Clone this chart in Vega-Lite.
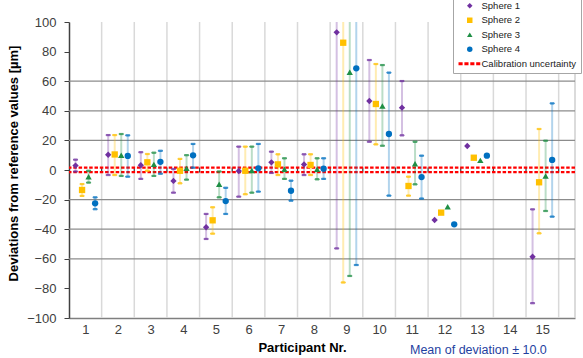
{
  "$schema": "https://vega.github.io/schema/vega-lite/v6.json",
  "width": 506,
  "height": 296,
  "autosize": {"type": "none"},
  "padding": {"left": 69, "top": 22, "right": 8, "bottom": 40},
  "background": "white",
  "title": {"text": "Mean of deviation ± 10.0", "orient": "bottom", "anchor": "start", "frame": "group", "dx": 341, "offset": -10, "fontSize": 12.5, "font": "Liberation Sans", "fontWeight": "normal", "color": "#1F3F9F"},
  "config": {
    "view": {"stroke": null},
    "font": "Liberation Sans",
    "legend": {"orient": "none", "legendX": 384, "legendY": -25, "padding": 4, "fillColor": "white", "strokeColor": "#a6a6a6", "labelFontSize": 9.5, "labelFont": "Liberation Sans", "labelColor": "#222222", "symbolSize": 30, "symbolStrokeWidth": 0, "rowPadding": 3.5, "symbolOffset": 8, "labelOffset": 7, "title": null}
  },
  "datasets": {
    "bounds": [{"b": 1.5}, {"b": 2.5}, {"b": 3.5}, {"b": 4.5}, {"b": 5.5}, {"b": 6.5}, {"b": 7.5}, {"b": 8.5}, {"b": 9.5}, {"b": 10.5}, {"b": 11.5}, {"b": 12.5}, {"b": 13.5}, {"b": 14.5}, {"b": 15.5}],
    "grid": [{"g": -60}, {"g": -40}, {"g": -20}, {"g": 20}, {"g": 40}, {"g": 60}],
    "main": [
      {"p": 1, "k": 1, "sphere": "Sphere 1", "v": 3, "lo": -1, "hi": 7},
      {"p": 1, "k": 2, "sphere": "Sphere 2", "v": -13.5, "lo": -17.5, "hi": -9.5},
      {"p": 1, "k": 3, "sphere": "Sphere 3", "v": -4.5, "lo": -8.5, "hi": -0.5},
      {"p": 1, "k": 4, "sphere": "Sphere 4", "v": -22.5, "lo": -26.5, "hi": -18.5},
      {"p": 2, "k": 1, "sphere": "Sphere 1", "v": 10.3, "lo": -3.4, "hi": 23.6},
      {"p": 2, "k": 2, "sphere": "Sphere 2", "v": 10.5, "lo": -3.4, "hi": 23.6},
      {"p": 2, "k": 3, "sphere": "Sphere 3", "v": 10, "lo": -4, "hi": 24.3},
      {"p": 2, "k": 4, "sphere": "Sphere 4", "v": 9.5, "lo": -4.5, "hi": 23.4},
      {"p": 3, "k": 1, "sphere": "Sphere 1", "v": 3.2, "lo": -6, "hi": 12},
      {"p": 3, "k": 2, "sphere": "Sphere 2", "v": 5.2, "lo": -0.5, "hi": 10.8},
      {"p": 3, "k": 3, "sphere": "Sphere 3", "v": 3.8, "lo": -4, "hi": 11.7},
      {"p": 3, "k": 4, "sphere": "Sphere 4", "v": 5.5, "lo": -2.5, "hi": 13},
      {"p": 4, "k": 1, "sphere": "Sphere 1", "v": -7.4, "lo": -15.3, "hi": 0.7},
      {"p": 4, "k": 2, "sphere": "Sphere 2", "v": -0.5, "lo": -9, "hi": 7.5},
      {"p": 4, "k": 3, "sphere": "Sphere 3", "v": 1.1, "lo": -6.5, "hi": 10},
      {"p": 4, "k": 4, "sphere": "Sphere 4", "v": 9.9, "lo": 1.6, "hi": 17.6},
      {"p": 5, "k": 1, "sphere": "Sphere 1", "v": -38.7, "lo": -46.6, "hi": -29.7},
      {"p": 5, "k": 2, "sphere": "Sphere 2", "v": -34, "lo": -43, "hi": -25.2},
      {"p": 5, "k": 3, "sphere": "Sphere 3", "v": -9.7, "lo": -18.5, "hi": -1},
      {"p": 5, "k": 4, "sphere": "Sphere 4", "v": -21, "lo": -29.7, "hi": -12},
      {"p": 6, "k": 1, "sphere": "Sphere 1", "v": -0.7, "lo": -18, "hi": 15.8},
      {"p": 6, "k": 2, "sphere": "Sphere 2", "v": -0.5, "lo": -16.4, "hi": 15.8},
      {"p": 6, "k": 3, "sphere": "Sphere 3", "v": -0.3, "lo": -15.3, "hi": 15.8},
      {"p": 6, "k": 4, "sphere": "Sphere 4", "v": 1.1, "lo": -14.6, "hi": 17.6},
      {"p": 7, "k": 1, "sphere": "Sphere 1", "v": 5.2, "lo": -2, "hi": 12.4},
      {"p": 7, "k": 2, "sphere": "Sphere 2", "v": 3.8, "lo": -3.4, "hi": 10.6},
      {"p": 7, "k": 3, "sphere": "Sphere 3", "v": 0.5, "lo": -6, "hi": 7.9},
      {"p": 7, "k": 4, "sphere": "Sphere 4", "v": -14, "lo": -20.7, "hi": -7.2},
      {"p": 8, "k": 1, "sphere": "Sphere 1", "v": 3.8, "lo": -3.4, "hi": 10.6},
      {"p": 8, "k": 2, "sphere": "Sphere 2", "v": 3.4, "lo": -3.4, "hi": 10.6},
      {"p": 8, "k": 3, "sphere": "Sphere 3", "v": 0.5, "lo": -6.3, "hi": 7.9},
      {"p": 8, "k": 4, "sphere": "Sphere 4", "v": 0.9, "lo": -6, "hi": 7.9},
      {"p": 9, "k": 1, "sphere": "Sphere 1", "v": 93, "lo": -53, "hi": 239},
      {"p": 9, "k": 2, "sphere": "Sphere 2", "v": 86, "lo": -76, "hi": 248},
      {"p": 9, "k": 3, "sphere": "Sphere 3", "v": 66, "lo": -71.6, "hi": 204},
      {"p": 9, "k": 4, "sphere": "Sphere 4", "v": 68.7, "lo": -64.2, "hi": 201},
      {"p": 10, "k": 1, "sphere": "Sphere 1", "v": 46.6, "lo": 19.1, "hi": 74.3},
      {"p": 10, "k": 2, "sphere": "Sphere 2", "v": 44.6, "lo": 17.3, "hi": 71.6},
      {"p": 10, "k": 3, "sphere": "Sphere 3", "v": 43.2, "lo": 16.4, "hi": 70.9},
      {"p": 10, "k": 4, "sphere": "Sphere 4", "v": 24.3, "lo": -17.3, "hi": 65.8},
      {"p": 11, "k": 1, "sphere": "Sphere 1", "v": 42.1, "lo": 23.4, "hi": 60.1},
      {"p": 11, "k": 2, "sphere": "Sphere 2", "v": -10.8, "lo": -17.3, "hi": -4.5},
      {"p": 11, "k": 3, "sphere": "Sphere 3", "v": 4.3, "lo": -9.7, "hi": 19.1},
      {"p": 11, "k": 4, "sphere": "Sphere 4", "v": -4.8, "lo": -19.3, "hi": 9.7},
      {"p": 12, "k": 1, "sphere": "Sphere 1", "v": -33.8, "lo": null, "hi": null},
      {"p": 12, "k": 2, "sphere": "Sphere 2", "v": -28.8, "lo": null, "hi": null},
      {"p": 12, "k": 3, "sphere": "Sphere 3", "v": -24.8, "lo": null, "hi": null},
      {"p": 12, "k": 4, "sphere": "Sphere 4", "v": -36.7, "lo": null, "hi": null},
      {"p": 13, "k": 1, "sphere": "Sphere 1", "v": 16.2, "lo": null, "hi": null},
      {"p": 13, "k": 2, "sphere": "Sphere 2", "v": 8.3, "lo": null, "hi": null},
      {"p": 13, "k": 3, "sphere": "Sphere 3", "v": 6.5, "lo": null, "hi": null},
      {"p": 13, "k": 4, "sphere": "Sphere 4", "v": 9.7, "lo": null, "hi": null},
      {"p": 15, "k": 1, "sphere": "Sphere 1", "v": -58.6, "lo": -90, "hi": -26.6},
      {"p": 15, "k": 2, "sphere": "Sphere 2", "v": -8.3, "lo": -42.8, "hi": 27.7},
      {"p": 15, "k": 3, "sphere": "Sphere 3", "v": -4.1, "lo": -27.7, "hi": 19.8},
      {"p": 15, "k": 4, "sphere": "Sphere 4", "v": 6.8, "lo": -31.5, "hi": 45}
    ]
  },
  "layer": [
    {
      "data": {"name": "bounds"},
      "mark": {"type": "rule", "color": "#d9d9d9", "strokeWidth": 1.5},
      "encoding": {
        "x": {"field": "b", "type": "quantitative", "scale": {"domain": [0.5, 16], "nice": false, "zero": false}, "title": "Participant Nr."}
      }
    },
    {
      "data": {"values": [{"e": 16}]},
      "mark": {"type": "rule", "color": "#cfcfcf", "strokeWidth": 1.5},
      "encoding": {
        "x": {"field": "e", "type": "quantitative", "title": "Participant Nr."}
      }
    },
    {
      "data": {"name": "grid"},
      "mark": {"type": "rule", "color": "#8c8c8c", "strokeWidth": 1.2},
      "encoding": {
        "y": {"field": "g", "type": "quantitative", "scale": {"domain": [-100, 100], "nice": false}, "title": "Deviations from reference values [µm]"}
      }
    },
    {
      "mark": {"type": "rule", "color": "#000000", "strokeWidth": 1.5},
      "encoding": {"y": {"datum": 0, "type": "quantitative"}}
    },
    {
      "data": {"name": "bounds"},
      "mark": {"type": "tick", "orient": "vertical", "color": "#000000", "size": 5, "thickness": 1.2},
      "encoding": {
        "x": {"field": "b", "type": "quantitative", "title": "Participant Nr."},
        "y": {"datum": 0, "type": "quantitative"}
      }
    },
    {
      "data": {"values": [{"c": 1.6}, {"c": -1.4}]},
      "mark": {"type": "rule", "color": "#ff0000", "strokeWidth": 2.2, "strokeDash": [3.5, 1.8]},
      "encoding": {"y": {"field": "c", "type": "quantitative", "title": "Deviations from reference values [µm]"}}
    },
    {
      "data": {"name": "main"},
      "transform": [
        {"filter": "isValid(datum.lo)"},
        {"calculate": "datum.p + (datum.k - 2.5) * 0.2", "as": "xpos"}
      ],
      "layer": [
        {
          "mark": {"type": "rule", "strokeWidth": 2, "opacity": 0.3, "clip": true},
          "encoding": {
            "x": {"field": "xpos", "type": "quantitative", "title": "Participant Nr."},
            "y": {"field": "lo", "type": "quantitative", "title": "Deviations from reference values [µm]"},
            "y2": {"field": "hi"},
            "stroke": {"field": "sphere", "type": "nominal", "scale": {"domain": ["Sphere 1", "Sphere 2", "Sphere 3", "Sphere 4"], "range": ["#7030A0", "#FFC000", "#1F8F45", "#0070C0"]}, "legend": null}
          }
        },
        {
          "mark": {"type": "tick", "orient": "horizontal", "size": 4, "thickness": 1.2, "opacity": 0.8, "clip": true},
          "encoding": {
            "x": {"field": "xpos", "type": "quantitative", "title": "Participant Nr."},
            "y": {"field": "lo", "type": "quantitative", "title": "Deviations from reference values [µm]"},
            "stroke": {"field": "sphere", "type": "nominal", "legend": null},
            "fill": {"field": "sphere", "type": "nominal", "scale": {"domain": ["Sphere 1", "Sphere 2", "Sphere 3", "Sphere 4"], "range": ["#7030A0", "#FFC000", "#1F8F45", "#0070C0"]}, "legend": null}
          }
        },
        {
          "mark": {"type": "tick", "orient": "horizontal", "size": 4, "thickness": 1.2, "opacity": 0.8, "clip": true},
          "encoding": {
            "x": {"field": "xpos", "type": "quantitative", "title": "Participant Nr."},
            "y": {"field": "hi", "type": "quantitative", "title": "Deviations from reference values [µm]"},
            "stroke": {"field": "sphere", "type": "nominal", "legend": null},
            "fill": {"field": "sphere", "type": "nominal", "legend": null}
          }
        }
      ]
    },
    {
      "data": {"name": "main"},
      "transform": [
        {"calculate": "datum.p + (datum.k - 2.5) * 0.2", "as": "xpos"}
      ],
      "mark": {"type": "point", "filled": true, "opacity": 1, "size": 40},
      "encoding": {
        "x": {"field": "xpos", "type": "quantitative", "title": "Participant Nr.",
          "axis": {"values": [1, 2, 3, 4, 5, 6, 7, 8, 9, 10, 11, 12, 13, 14, 15], "format": "d", "tickCount": 30, "labelOverlap": false, "grid": false, "ticks": false, "domain": true, "domainColor": "#7f7f7f", "domainWidth": 1.5, "labelFontSize": 13, "labelColor": "#404040", "labelPadding": 5, "labelFont": "Liberation Sans", "titleFont": "Liberation Sans", "titleFontSize": 13, "titleFontWeight": "bold", "titleColor": "#000000", "titleX": 233, "titleY": 23}},
        "y": {"field": "v", "type": "quantitative", "title": "Deviations from reference values [µm]",
          "axis": {"values": [-100, -80, -60, -40, -20, 0, 20, 40, 60, 80, 100], "format": "d", "tickCount": 30, "labelOverlap": false, "grid": false, "ticks": true, "tickSize": 5, "tickColor": "#404040", "domain": true, "domainColor": "#404040", "domainWidth": 1.5, "labelFontSize": 13, "labelColor": "#404040", "labelPadding": 8, "labelFont": "Liberation Sans", "titleFont": "Liberation Sans", "titleFontSize": 13, "titleFontWeight": "bold", "titleColor": "#000000", "titlePadding": 6, "titleY": 141}},
        "color": {"field": "sphere", "type": "nominal",
          "scale": {"domain": ["Sphere 1", "Sphere 2", "Sphere 3", "Sphere 4", "Calibration uncertainty"], "range": ["#7030A0", "#FFC000", "#1F8F45", "#0070C0", "#FF0000"]},
          "legend": {"orient": "none", "legendX": 384, "legendY": -25}},
        "shape": {"field": "sphere", "type": "nominal",
          "scale": {"domain": ["Sphere 1", "Sphere 2", "Sphere 3", "Sphere 4", "Calibration uncertainty"], "range": ["diamond", "square", "triangle-up", "circle", "M-4.1,-0.55H-2.6V0.55H-4.1Z M-1.95,-0.55H-0.45V0.55H-1.95Z M0.2,-0.55H1.7V0.55H0.2Z M2.35,-0.55H3.85V0.55H2.35Z"]},
          "legend": {"orient": "none", "legendX": 384, "legendY": -25}}
      }
    }
  ]
}
